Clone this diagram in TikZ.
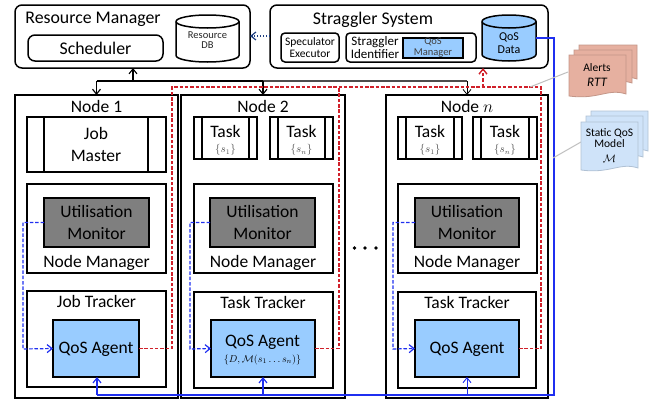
\documentclass[tikz,border=0pt]{standalone}
\usepackage{fontspec}
\setmainfont{Carlito}
\usetikzlibrary{arrows.meta}
\definecolor{qosblue}{HTML}{99CCFF}
\definecolor{utilgrey}{HTML}{7F7F7F}
\definecolor{alertfill}{HTML}{E6B0A0}
\definecolor{modelfill}{HTML}{CFE3F9}
\definecolor{blueline}{HTML}{1F2FF0}
\definecolor{redline}{HTML}{D0202A}
\definecolor{navyline}{HTML}{1F3F80}
\newcommand{\fs}[1]{\pgfmathsetmacro{\fsb}{#1*1.15}\fontsize{#1}{\fsb}\selectfont}
\newcommand{\pbox}[6][]{%
  \pgfmathsetmacro{\pw}{#5-#3}\pgfmathsetmacro{\ph}{#6-#4}%
  \pgfmathsetmacro{\cx}{(#3+#5)/2}\pgfmathsetmacro{\cy}{(#4+#6)/2}%
  \node[plain,minimum width=\pw pt,minimum height=\ph pt,#1] (#2) at (\cx,\cy) {};}
\newcommand{\lanes}[4]{%
  \draw[line width=1.5pt] (#1,#3) -- (#1,#4) (#2,#3) -- (#2,#4);}
\newcommand{\docpath}[5]{%
  \draw[fill=#5,draw=#5!85!black,line width=0.8pt] (#1,#2) -- (#3,#2) -- (#3,#4-3)
    .. controls (#3-18,#4-9) and (#3-28,#4+3) .. (#1,#4-1) -- cycle;}
% name, x1, y1, x2, y2, fill: a drum drawn over an invisible named node
\newcommand{\drum}[6]{%
  \pgfmathsetmacro{\pw}{#4-#2}\pgfmathsetmacro{\ph}{#5-#3}%
  \pgfmathsetmacro{\cx}{(#2+#4)/2}\pgfmathsetmacro{\cy}{(#3+#5)/2}%
  \pgfmathsetmacro{\rx}{(#4-#2)/2}%
  \node[minimum width=\pw pt,minimum height=\ph pt,inner sep=0pt,outer sep=0pt] (#1) at (\cx,\cy) {};
  \draw[fill=#6,line width=1.5pt] (#2,#3+6.5) -- (#2,#5-6.5)
    arc[start angle=180,end angle=360,x radius=\rx pt,y radius=6.5pt]
    -- (#4,#3+6.5) arc[start angle=0,end angle=180,x radius=\rx pt,y radius=6.5pt] -- cycle;
  \draw[line width=1.5pt] (#2,#3+6.5) arc[start angle=180,end angle=360,x radius=\rx pt,y radius=6.5pt];}
\tikzset{
  plain/.style={draw,rectangle,line width=1.5pt,inner sep=0pt,outer sep=0pt},
  txt/.style={inner sep=0pt,outer sep=0pt,align=center,text=black},
  round box/.style={rounded corners=7pt},
  agent/.style={fill=qosblue},
  monitor/.style={fill=utilgrey},
  barb/.style={-{Straight Barb[length=5pt,width=8pt]}},
  bus/.style={line width=1.1pt,barb},
  busline/.style={line width=1.1pt},
  reddash/.style={draw=redline,line width=1.2pt,dash pattern=on 3.5pt off 1.8pt},
  bluedash/.style={draw=blueline,line width=1.2pt,dash pattern=on 3.5pt off 1.8pt},
  bluesolid/.style={draw=blueline,line width=1.5pt},
  note/.style={draw=black!25,line width=1pt},
}
\begin{document}
\begin{tikzpicture}[x=1pt,y=-1pt]
\useasboundingbox (0,0) rectangle (657,399);
% top-level boxes
\pbox[round box]{rm}{15}{5}{250}{68}
\node[txt,font=\fs{17.8}] at (93,19.5) {Resource Manager};
\pbox[round box]{sched}{28}{35}{163}{61}
\node[txt,font=\fs{17.8}] at (95.5,48) {Scheduler};
\drum{rdb}{176}{15}{239}{62}{white}
\node[txt,font=\fs{10.5},text=black!85] at (207.5,40.5) {Resource\\[-2pt]DB};
\pbox[round box]{ss}{270}{5}{548}{68}
\node[txt,font=\fs{17.8}] at (373,19.5) {Straggler System};
\pbox[rounded corners=4pt]{spec}{281}{33}{339}{62}
\node[txt,font=\fs{11.5}] at (310,47.5) {Speculator\\[-2pt]Executor};
\pbox[rounded corners=4pt]{ident}{346}{33}{476}{62}
\node[txt,font=\fs{13}] at (375,47.5) {Straggler\\[-2pt]Identifier};
\pbox[agent]{qosm}{403}{38}{463}{58}
\node[txt,font=\fs{10.5},text=black!75] at (433,47.5) {QoS\\[-2pt]Manager};
\drum{qdb}{482}{15}{536}{61}{qosblue}
\node[txt,font=\fs{12}] at (509,43) {QoS\\[-1pt]Data};
% nodes
\pbox{n1}{15}{95}{178}{398}
\pbox{n2}{181}{95}{345}{398}
\pbox{nn}{386}{95}{548}{398}
\node[txt,font=\fs{17.5}] at (96.5,106) {Node 1};
\node[txt,font=\fs{17.5}] at (263,106) {Node 2};
\node[txt,font=\fs{17.5}] at (467,106) {Node $n$};
% node 1
\pbox{jm}{27}{117}{166}{172}
\lanes{44}{148}{117}{172}
\node[txt,font=\fs{17.5}] at (96,144.5) {Job\\[1.5pt]Master};
\pbox{nm1}{27}{184}{166}{273}
\pbox[monitor]{um1}{44}{198}{149}{247}
\node[txt,font=\fs{17.5}] at (96.5,222.5) {Utilisation\\[1pt]Monitor};
\node[txt,font=\fs{17.5}] at (96.5,263) {Node Manager};
\pbox{jt}{27}{291}{166}{387}
\node[txt,font=\fs{17.5}] at (96.5,301.5) {Job Tracker};
\pbox[agent]{qa1}{53}{320}{139}{377}
\node[txt,font=\fs{17.5}] at (96,349) {QoS Agent};
% node 2
\pbox{t21}{194}{117}{257}{159}
\lanes{202}{249}{117}{159}
\node[txt,font=\fs{17.5}] at (225.5,131) {Task};
\node[txt,font=\fs{10.5},text=black!70] at (225.5,150) {$\{s_1\}$};
\pbox{t22}{270}{117}{333}{159}
\lanes{278}{325}{117}{159}
\node[txt,font=\fs{17.5}] at (301.5,131) {Task};
\node[txt,font=\fs{10.5},text=black!70] at (301.5,150) {$\{s_n\}$};
\pbox{nm2}{194}{184}{333}{273}
\pbox[monitor]{um2}{210}{198}{315}{247}
\node[txt,font=\fs{17.5}] at (262.5,222.5) {Utilisation\\[1pt]Monitor};
\node[txt,font=\fs{17.5}] at (263,263) {Node Manager};
\pbox{tt2}{194}{292}{333}{388}
\node[txt,font=\fs{17.5}] at (263,302) {Task Tracker};
\pbox[agent]{qa2}{211}{320}{315}{377}
\node[txt,font=\fs{17.5}] at (262.5,342) {QoS Agent};
\node[txt,font=\fs{10}] at (262.5,359.5) {$\{D,\mathcal{M}(s_1\ldots s_n)\}$};
% node n
\pbox{t31}{398}{117}{462}{159}
\lanes{406}{454}{117}{159}
\node[txt,font=\fs{17.5}] at (430,131) {Task};
\node[txt,font=\fs{10.5},text=black!70] at (430,150) {$\{s_1\}$};
\pbox{t32}{473}{117}{537}{159}
\lanes{481}{529}{117}{159}
\node[txt,font=\fs{17.5}] at (505,131) {Task};
\node[txt,font=\fs{10.5},text=black!70] at (505,150) {$\{s_n\}$};
\pbox{nm3}{398}{184}{537}{273}
\pbox[monitor]{um3}{415}{198}{519}{247}
\node[txt,font=\fs{17.5}] at (467,222.5) {Utilisation\\[1pt]Monitor};
\node[txt,font=\fs{17.5}] at (467,263) {Node Manager};
\pbox{tt3}{398}{292}{536}{388}
\node[txt,font=\fs{17.5}] at (467,302) {Task Tracker};
\pbox[agent]{qa3}{415}{320}{519}{377}
\node[txt,font=\fs{17.5}] at (467,349) {QoS Agent};
% ellipsis
\fill (354.5,248) circle (1.8pt) (365,248) circle (1.8pt) (376,248) circle (1.8pt);
% black bus
\coordinate (busL) at (n1.north |- 0,81);
\coordinate (busM) at (n2.north |- 0,81);
\coordinate (busR) at (nn.north |- 0,81);
\coordinate (busU) at (133,81);
\draw[busline] (busL) -- (busM);
\draw[busline,draw=black!70] (busM) -- (busR);
\draw[bus] (busU) -- (rm.south -| busU);
\draw[bus] (busL) -- (n1.north);
\draw[bus] (busM) -- (n2.north);
\draw[bus,line width=0.8pt] (busR) -- (nn.north);
% navy dotted
\draw[draw=navyline,line width=1.2pt,dash pattern=on 1.5pt off 1.5pt,barb] (ss.west |- 0,36) -- (rm.east |- 0,36);
% red feedback
\coordinate (rTL) at (172,87);
\coordinate (rTR) at (541,87);
\coordinate (rM) at (339,87);
\coordinate (rUp) at (483,87);
\draw[reddash] (qa1.east) -| (rTL) -- (rTR) -- (qa3.east -| rTR) -- (qa3.east);
\draw[reddash] (qa2.east) -| (rM);
\draw[reddash,barb,line width=1.4pt] (rUp) -- (ss.south -| rUp);
% blue dashed
\foreach \u/\q/\x in {um1/qa1/23,um2/qa2/190,um3/qa3/393}{
  \draw[bluedash,barb] (\u.west) -| (\x,349) -- (\q.west);
}
% blue solid
\coordinate (bR) at (554,395);
\coordinate (bL) at (97,395);
\draw[bluesolid] (qdb.east |- 0,38) -- (554,38) -- (bR) -- (bL);
\draw[bluesolid,line width=1.2pt,barb] (bL) -- (qa1.south -| bL);
\draw[bluesolid,line width=1.2pt,barb] (qa2.south |- bL) -- (qa2.south);
\draw[draw=blueline,line width=0.9pt,barb] (qa3.south |- bL) -- (qa3.south);
% note leader lines
\node[txt,minimum width=58pt,minimum height=42pt] (alerts) at (597,76) {};
\node[txt,minimum width=58pt,minimum height=51pt] (model) at (610,146.5) {};
\draw[note] (alerts.west |- 0,72) -- (530,87);
\draw[note] (model.west |- 0,142) -- (553,158);
% document stacks
\docpath{579}{45}{637}{82}{alertfill}
\docpath{574}{50}{632}{86}{alertfill}
\docpath{569}{55}{626}{97}{alertfill}
\node[txt,font=\fs{11.5}] at (597,68) {Alerts};
\node[txt,font=\fs{13}] at (597,82) {$\mathit{RTT}$};
\docpath{591}{111}{648}{154}{modelfill}
\docpath{586}{116}{643}{160}{modelfill}
\docpath{581}{122}{638}{171}{modelfill}
\node[txt,font=\fs{11.5}] at (609.5,138) {Static QoS\\[-3pt]Model};
\node[txt,font=\fs{11}] at (609.5,158.5) {$\mathcal{M}$};
\end{tikzpicture}
\end{document}
